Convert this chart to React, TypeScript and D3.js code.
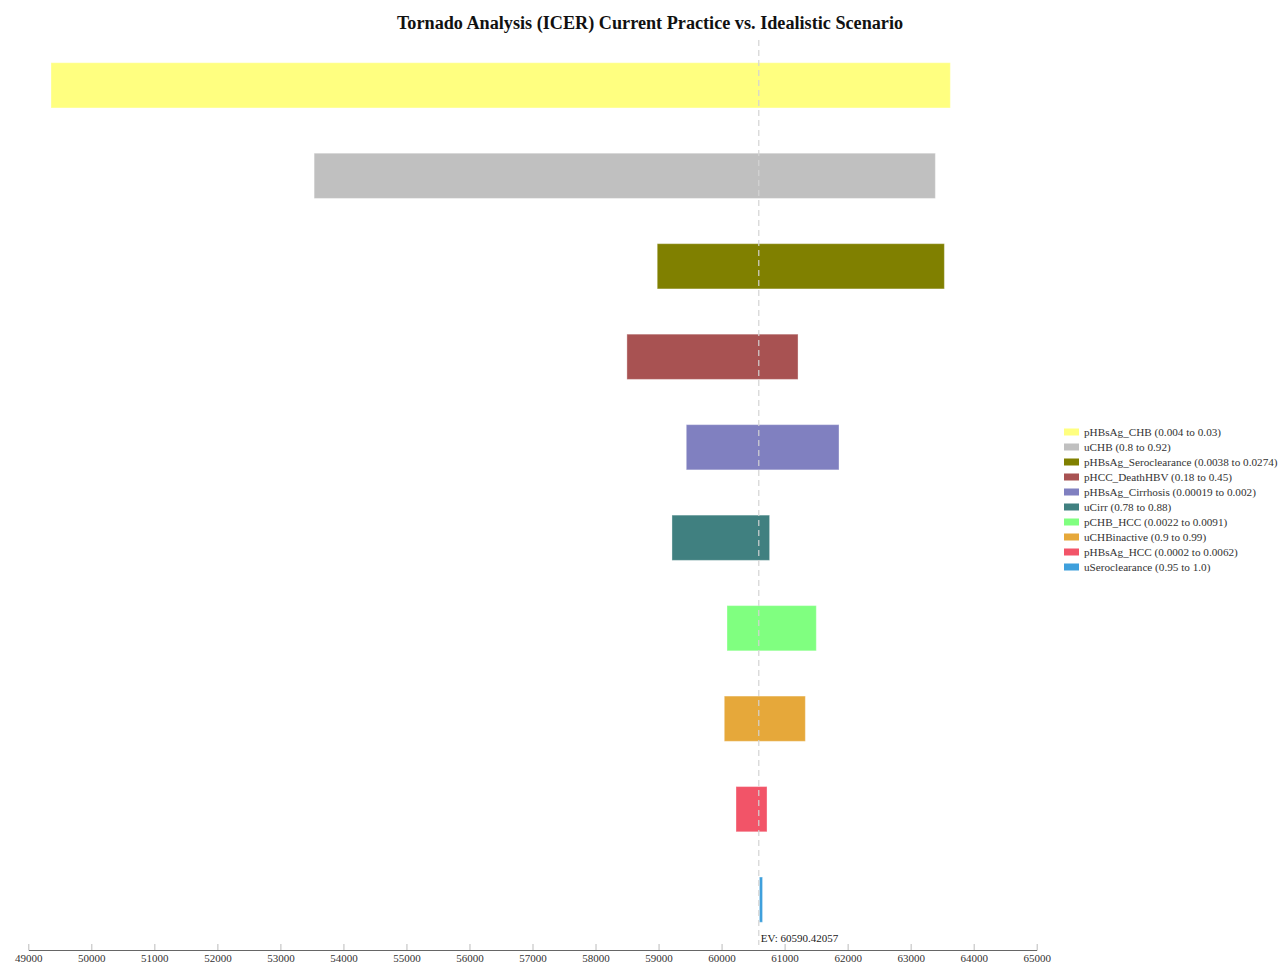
import React, { useEffect, useRef } from "react";
import * as d3 from "d3";

const params = [
  "pHBsAg_CHB",
  "uCHB",
  "pHBsAg_Seroclearance",
  "pHCC_DeathHBV",
  "pHBsAg_Cirrhosis",
  "uCirr",
  "pCHB_HCC",
  "uCHBinactive",
  "pHBsAg_HCC",
  "uSeroclearance",
];
const ranges = [
  "(0.004 to 0.03)",
  "(0.8 to 0.92)",
  "(0.0038 to 0.0274)",
  "(0.18 to 0.45)",
  "(0.00019 to 0.002)",
  "(0.78 to 0.88)",
  "(0.0022 to 0.0091)",
  "(0.9 to 0.99)",
  "(0.0002 to 0.0062)",
  "(0.95 to 1.0)",
];
const lows = [49360, 53535, 58979, 58498, 59440, 59213, 60086, 60043, 60229, 60600];
const highs = [63630, 63392, 63535, 61213, 61863, 60762, 61503, 61329, 60721, 60650];
const colors = [
  "#ffff80",
  "#c0c0c0",
  "#808000",
  "#a85252",
  "#8080c0",
  "#408080",
  "#80ff80",
  "#e6a83a",
  "#f25468",
  "#3fa0dc",
];
const evValue = 60590.42057;
const xTicks = d3.range(49000, 65001, 1000);
const title = "Tornado Analysis (ICER) Current Practice vs. Idealistic Scenario";

const W = 1281;
const H = 966;

export default function App() {
  const ref = useRef<SVGSVGElement>(null);

  useEffect(() => {
    const svg = d3.select(ref.current);
    svg.selectAll("*").remove();
    const font = "'Liberation Serif', 'Times New Roman', serif";

    const x = d3.scaleLinear().domain([49000, 65000]).range([28.3, 1036.7]);
    const y = d3
      .scaleBand<string>()
      .domain(params)
      .range([40.1, 944.9])
      .paddingInner(0.5)
      .paddingOuter(0.25);

    svg
      .append("text")
      .attr("x", 650)
      .attr("y", 29)
      .attr("text-anchor", "middle")
      .attr("font-family", font)
      .attr("font-weight", "bold")
      .attr("font-size", 18.2)
      .attr("fill", "#111")
      .text(title);

    svg
      .append("g")
      .selectAll("rect")
      .data(params)
      .join("rect")
      .attr("x", (_, i) => x(lows[i]))
      .attr("y", (d) => y(d)!)
      .attr("width", (_, i) => x(highs[i]) - x(lows[i]))
      .attr("height", y.bandwidth())
      .attr("fill", (_, i) => colors[i])
      .attr("stroke", "#ffffff")
      .attr("stroke-opacity", 0.35)
      .attr("stroke-width", 1);

    svg
      .append("line")
      .attr("x1", x(evValue))
      .attr("x2", x(evValue))
      .attr("y1", 40)
      .attr("y2", 945)
      .attr("stroke", "#d4d4d4")
      .attr("stroke-width", 1.2)
      .attr("stroke-dasharray", "6,4");

    svg
      .append("text")
      .attr("x", x(evValue) + 2)
      .attr("y", 942)
      .attr("font-family", font)
      .attr("font-size", 11)
      .attr("fill", "#222")
      .text(`EV: ${evValue}`);

    const axis = d3
      .axisBottom(x)
      .tickValues(xTicks)
      .tickFormat(d3.format("d"))
      .tickSize(0)
      .tickPadding(4);
    const gx = svg.append("g").attr("transform", "translate(0,950)").call(axis);
    gx.select(".domain").attr("stroke", "#666").attr("stroke-width", 1.2);
    gx.selectAll(".tick line").attr("y2", -6).attr("stroke", "#bbb");
    gx.selectAll(".tick text")
      .attr("font-family", font)
      .attr("font-size", 11)
      .attr("fill", "#333");

    const lg = svg.append("g").attr("transform", "translate(1064,432)");
    const rows = lg
      .selectAll("g")
      .data(params)
      .join("g")
      .attr("transform", (_, i) => `translate(0,${i * 15})`);
    rows
      .append("rect")
      .attr("x", 0)
      .attr("y", -3.5)
      .attr("width", 15)
      .attr("height", 7)
      .attr("fill", (_, i) => colors[i]);
    rows
      .append("text")
      .attr("x", 20)
      .attr("y", 4)
      .attr("font-family", font)
      .attr("font-size", 11.2)
      .attr("fill", "#333")
      .text((d, i) => `${d} ${ranges[i]}`);
  }, []);

  return (
    <svg
      ref={ref}
      width={W}
      height={H}
      style={{ position: "absolute", left: 0, top: 0, background: "#fff" }}
    />
  );
}
